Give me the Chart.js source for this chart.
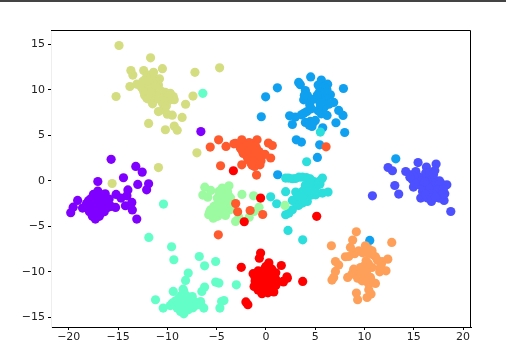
<!DOCTYPE html>
<html>
<head>
  <meta charset="UTF-8">
  <title>Scatter clusters</title>
  <script src="https://cdn.jsdelivr.net/npm/chart.js"></script>
  <style>
    html, body { margin: 0; padding: 0; background: #fff; overflow: hidden; }
    #bar { position: absolute; left: 0; top: 0; width: 506px; height: 1.5px; background: #444; }
    #wrap { width: 506px; height: 342px; }
  </style>
</head>
<body>
  <div id="wrap"><canvas id="grafico"></canvas></div>
  <div id="bar"></div>
  <script>
    const xTicks = [-20, -15, -10, -5, 0, 5, 10, 15, 20];
    const yTicks = [-15, -10, -5, 0, 5, 10, 15];

    const purple = [[-6.6,5.4],[-15.7,2.35],[-13.2,1.57],[-12.55,0.95],[-14.45,0.33],[-17.05,-0.08],[-13,-0.4],[-11.9,-0.33],[-12.1,-0.99],[-14,-1],[-15.2,-1.5],[-14.7,-1.9],[-14.1,-1.65],[-17.05,-1.13],[-16.3,-1.43],[-19.1,-2.16],[-18.6,-3],[-19.55,-2.9],[-19.8,-3.5],[-13.6,-2.38],[-14.25,-2.74],[-13.55,-3.2],[-13.1,-4.2],[-15.25,-2.93],[-17.3,-4.2],
      [-17.8,-2],[-17.3,-1.8],[-16.8,-1.9],[-16.3,-2.1],[-16,-2.5],[-16.2,-3],[-16.7,-3.5],[-17.2,-3.6],[-17.7,-3.3],[-18,-2.7],[-17.5,-2.5],[-17,-2.3],[-16.6,-2.8],[-17.2,-3],[-17.6,-3.9],[-16.9,-3.9],[-16.4,-3.4],[-18,-2.2],[-15.9,-2],[-15.7,-2.8],[-17.1,-2.8],[-16.5,-2.4],[-17.8,-3],[-18.3,-2.9],
      [-17.4,-2.1],[-16.9,-2.6],[-17.5,-2.9],[-17.4,-3.4],[-16.9,-3.2],[-16.3,-2.6],[-16.6,-2.1],[-17.1,-1.9],[-17.5,-1.5],[-16.8,-1.5],[-16.5,-1.6],[-16,-2.9],[-16.6,-3.2],[-18.2,-2.5],[-17.9,-3.4],[-17.1,-3.4]];
    const indigo = [[15.43,2],[16.28,1.5],[17.26,1.83],[17.13,1.13],[12.39,1.46],[12.83,1.1],[14.18,1.02],[14.69,0.66],[15.2,1.02],[13.07,-0.52],[13.47,-1.46],[10.8,-1.65],[18.75,-3.37],[15.7,-1.9],[16.79,-2.27],[18.07,-2.16],[14.96,-0.69],
      [15.7,0.3],[16.39,0.3],[16.2,0.85],[17.06,0.11],[17.74,-0.25],[18.35,-0.44],[15.53,-0.44],[16.21,-0.44],[17.06,-0.63],[17.74,-0.8],[15.88,-1.17],[16.55,-1.17],[17.23,-1.35],[18.14,-1.43],[16.39,-1.9],[17.56,-1.9],[15.37,-0.08],[14.86,0.11],
      [15.9,0],[16.5,-0.2],[16.9,0.3],[16,-0.8],[16.6,-0.8],[17.2,-0.2],[17.4,-1],[16.9,-1.4],[16.2,-1.5],[15.4,0.5],[15,0.5],[16.6,0.9],[17.6,0],[18,-0.9],[17.9,-1.5],[16.8,-1.9],[17.2,-1.8],[16.1,-0.1],[15.1,-0.2],[14.6,0.4],[17,0.7]];
    const azure = [[4.54,11.4],[3.32,10.8],[3.49,10.54],[5.62,11.05],[6.26,10.6],[7.86,10.13],[1.16,10.2],[-0.03,9.22],[-0.47,7.03],[2.4,7.13],[2.98,7],[2.68,6.18],[3.6,7.24],[4.16,7.6],[4.44,8.34],[4,9.91],[3.83,8.89],[4.33,9.08],[5.35,8.89],[5.52,10.17],[6.19,9.99],[5.69,9.44],[6.54,9.44],[5.86,8.89],[6.87,8.6],[5.52,8.09],[5.93,8.09],[5.62,7.35],[6.2,7.17],[7.38,7.72],[7.82,7.17],[7.1,6.37],[7.99,5.3],[5.76,5.82],[4,6.4],[4.5,6.51],[5.01,6.62],[4.67,5.96],[3.08,4.5],[3.6,4.25],[5.45,3.95],[5.22,2.56],[13.17,2.41],[10.53,-6.55],[1.19,0.66],
      [5.3,10.5],[5.9,10.3],[5.4,9.7],[6,9.7],[6.1,9],[5.2,9.4],[5.5,8.5],[6.4,8.4],[5.3,7.7],[4.2,9.4],[3.9,9.4],[4.7,8.9],[4.6,7.9],[3.85,7.4],[4.4,6.1],[4.8,6.4]];
    const cyan = [[5.52,5.35],[4.13,2.09],[0.48,-1.76],[1.09,-2.52],[2,-1.2],[2.24,-5.45],[3.73,-6.48],[2,-3.73],[2.34,-3.55],[2.68,-3.18],[2,0.3],[2.68,0.22],[3.35,0.4],[4.1,0.36],[4.87,-0.08],[5.73,0.3],[5.48,-0.36],[5.73,-1.35],[6.3,-1.24],[3.02,-1.24],[3.7,-1.17],[4.37,-0.99],[4.87,-0.8],[4.03,-1.9],[4.7,-1.54],[3.7,-2.45],[3.02,-2.38],[2.68,-2.16],[4.2,-2.27],[4.37,-0.63],[5.05,-1.54],
      [4,-0.5],[4.5,-0.3],[4.6,-1.2],[4.1,-1.2],[3.5,-1.6],[4.3,-1.7],[3.3,-1.7],[3.9,-2.1],[3.3,-2.7],[5.2,-0.5],[5,-1.1],[5.5,0],[2.3,0.3],[3,0.25],[3.7,0.4],[4.5,0.2]];
    const mint = [[-6.4,9.6],[-6.76,-8.31],[-9.34,-8.67],[-6.22,-9.33],[-5.1,-8.86],[-7.88,-10.13],[-8.15,-10.94],[-6.22,-11.67],[-6.5,-12.15],[-5.1,-11.12],[-4.77,-11.23],[-3,-11.42],[-11.2,-13.06],[-10.42,-13.97],[-9.4,-12.15],[-4.5,-13.25],[-4.26,-13.14],[-4.67,-13.97],[-6.63,-13.25],[-6.3,-13.97],[-6.9,-13.61],[-8.33,-14.6],[-9.5,-13.43],[-9,-13.97],[-8.83,-12.88],[-8.33,-12.15],[-7.47,-12.7],[-7.64,-13.61],[-8.33,-13.2],[-8.33,-13.9],[-8.66,-14.35],[-7.88,-14.16],[-8.8,-13.4],[-7.8,-13.2],[-9.7,-13.7],[-7.4,-13.95],[-11.88,-6.22],[-10.39,-2.56],[-9.57,-7.24],
      [-8.6,-12.6],[-8.1,-12.6],[-9,-13.2],[-8.6,-13.2],[-8,-13.6],[-8.6,-13.7],[-9.2,-13.7],[-8.1,-14],[-7.9,-12.9],[-7.2,-13.3],[-7.2,-13.7],[-8.7,-14],[-8.3,-14.3],[-9.2,-13.2],[-7.5,-13.1],[-8.4,-11.9],[-6.6,-13.6]];
    const green = [[-6.2,-0.7],[-5.6,-1.06],[-6.4,-1.57],[-5.9,-1.8],[-2.43,-1.5],[-1.25,-1.65],[1.93,-2.7],[-0.7,-2.9],[-1.2,-3.37],[-1.7,-4],[-3.08,-4.46],[-2.74,-4],[-3.75,-0.55],[-4.43,-0.8],[-4.77,-1.17],[-3.9,-1.17],[-4.26,-1.72],[-4.93,-1.9],[-3.58,-1.9],[-4.6,-2.45],[-3.9,-2.45],[-5.28,-2.82],[-3.4,-2.82],[-5.6,-3.18],[-4.77,-3.18],[-4.1,-3.37],[-5.8,-3.73],[-5.34,-4.1],[-4.77,-3.73],[-4.1,-3.8],[-5.1,-3.5],[-4.4,-2.1],
      [-4.3,-1.2],[-4.5,-1.5],[-4.1,-2],[-4.7,-2.1],[-4.3,-2.5],[-4.9,-2.5],[-5,-3],[-4.4,-3],[-3.9,-2.9],[-5.4,-3.3],[-5.3,-3.7],[-4.5,-3.5],[-3.7,-3.2],[-4.2,-3.6],[-4.9,-3.9],[-5.7,-3.4],[-3.8,-1.6],[-3.6,-2.4],[-4,-0.9]];
    const khaki = [[-11.7,13.5],[-10.5,12.3],[-13.7,12.1],[-13.5,11.6],[-12.4,12.1],[-7.2,11.9],[-4.7,12.4],[-13.8,10.35],[-15.2,9.25],[-13.1,10.6],[-14.9,14.85],
      [-12,11.6],[-11.6,11.5],[-11.2,11.2],[-10.8,11.2],[-10.9,10.5],[-12.5,10.9],[-12.2,10.5],[-11.8,10.9],[-11.4,10.6],[-11,10.1],[-12.6,10.2],[-12.1,9.9],[-11.6,10],[-11.2,9.6],[-10.8,9.5],[-12.3,9.4],[-12,9],[-11.6,9.3],[-11.3,8.9],[-10.7,9.9],
      [-9.7,9.6],[-10.2,9.7],[-9.3,8.9],[-9.7,8.9],[-10,8.7],[-9.4,9.25],[-12.1,9.1],[-11.5,8.45],[-10.5,8.55],[-10.4,7.8],[-10.9,7.6],[-10,7.3],[-9.5,7.2],[-7.4,9.3],[-8.15,8.4],[-8.5,6.95],[-11.9,6.3],[-10.2,5.6],[-9.3,6],[-9,5.55],[-7,3.07],[-15.6,-0.3],[-10.9,1.45],
      [-12.2,11.2],[-11.5,10.3],[-11.9,10.2],[-11,10.8],[-12.8,10.5],[-11.6,11],[-12.4,9.8],[-10.9,9],[-10.3,9.1],[-10.1,8.2],[-9.9,9.4],[-11.2,10.4],[-12,11],[-11.4,11.9],[-11.7,9.7]];
    const orange = [[9.17,-5.6],[8.8,-6.51],[6.64,-7.13],[12.76,-6.77],[8.57,-7.32],[8.9,-7.87],[10.09,-7.13],[9.41,-7.68],[10.76,-7.68],[10.43,-7.5],[8.4,-8.31],[8.06,-8.34],[11.11,-8.34],[12.36,-8.6],[11.78,-8.86],[10.16,-8.78],[7.05,-8.86],[7.38,-9.25],[7.05,-9.95],[11.61,-9.52],[12.18,-9.88],[11.54,-9.99],[8.9,-9.7],[9.58,-9.52],[10.76,-9.52],[10.26,-9.8],[8.73,-10.24],[9.41,-10.24],[9.92,-10.54],[10.6,-10.61],[8.29,-10.61],[6.87,-10.61],[6.7,-10.9],[11.11,-11.27],[10.43,-11.34],[10.43,-11.96],[10.66,-12.44],[10.26,-12.81],[9.18,-12.33],[9.3,-13.06],[9.75,-10.98],
      [9.2,-9.9],[9.7,-10],[10.2,-10.2],[9.3,-10.7],[10.1,-11],[10.7,-11],[9.9,-9.4],[10.4,-9.1],[9.8,-7.9],[10.3,-7.9],[11.7,-9.2],[9,-8],[10.8,-8.1],[11.3,-8.7]];
    const redOrange = [[-4.8,4.5],[-5.65,3.7],[-4.05,3.77],[-3.25,4.06],[-2.45,4.5],[-0.9,4.5],[0.25,4.14],[0.65,3.87],[0.48,2.5],[-2.45,1.75],[-4.6,1.65],[-0.6,1.75],[-1.15,1.57],[-0.95,0.63],
      [-2.2,4],[-1.7,4.2],[-1.2,4.1],[-1,3.7],[-1.6,3.7],[-2.1,3.5],[-2.6,3.6],[-0.7,3.2],[-1.2,3.2],[-1.8,3.1],[-2.3,3],[-0.4,2.8],[-0.9,2.6],[-1.4,2.7],[-1.9,2.6],[-1.6,2.2],[-1.1,2.1],[-1.4,1.7],[-0.1,2.9],[-3.1,4.1],[-0.5,2.2],
      [-3.07,-2.5],[-2.87,-3.4],[-1.6,-3.26],[-0.33,-3.7],[6.1,3.73],[-4.83,-5.93],
      [-1.7,3.4],[-1.3,3.5],[-1.5,3],[-1.1,2.8],[-1.6,2.5],[-1.3,2.3],[-2,3.8],[-1.4,3.9],[-0.9,3.4],[-2.4,3.3],[-1.9,2.9],[-0.8,2.9],[-1.8,2.3],[-1.5,1.9]];
    const red = [[-3.3,1.1],[-0.54,-1.9],[5.15,-3.9],[-2.2,-4.5],[-2.5,-9.5],[-0.54,-7.94],[-0.67,-8.5],[-2.03,-13.3],[-1.83,-13.6],[1.56,-9.3],[2.17,-10.7],[1.77,-11.1],[3.73,-11.05],[2.13,-10.54],[1.73,-11.05],
      [-1.3,-10.2],[-1.1,-11],[-1.2,-11.6],[-0.8,-12],[-0.4,-12.4],[0.2,-12.3],[0.8,-12.2],[1,-11.5],[1,-10.8],[1,-10.1],[0.6,-9.7],[0.3,-9],[-0.1,-9.6],[-0.5,-10],[-0.2,-10.7],[0.3,-10.5],[-0.7,-10.8],[-0.3,-11.4],[0.3,-11.5],[0.7,-11],[-0.9,-11.5],[0.5,-9.9],[0,-11],
      [-0.8,-10.3],[-0.3,-9.9],[0.1,-10],[0.6,-10.4],[0.5,-11.2],[0.1,-11.3],[-0.5,-11.2],[-0.9,-11.1],[-0.2,-12],[0.3,-11.9],[0.7,-11.7],[-0.6,-11.6],[0,-9.4],[-0.8,-9.9],[-1.1,-10.6],[-0.2,-10.2],[0.8,-10.5]];

    const clusters = [purple, indigo, azure, cyan, mint, green, khaki, orange, redOrange, red];
    const colors = ['#8000ff', '#4d50ff', '#10a0f0', '#2cdfdc', '#64ffc8', '#9cfba0', '#d4dd80', '#ffa05a', '#ff5a2e', '#ff0000'];

    // later clusters sit on top, lower order is drawn last
    const datasets = clusters.map((pts, i) => ({
      data: pts.map(p => ({ x: p[0], y: p[1] })),
      backgroundColor: colors[i],
      borderWidth: 0,
      pointRadius: 4.6,
      order: clusters.length - i
    }));

    const frame = {
      id: 'frame',
      afterDatasetsDraw(chart) {
        const a = chart.chartArea, c = chart.ctx;
        c.save();
        c.strokeStyle = '#000';
        c.lineWidth = 1;
        c.beginPath();
        c.moveTo(a.left, a.top + 0.5);
        c.lineTo(a.right - 0.5, a.top + 0.5);
        c.lineTo(a.right - 0.5, a.bottom);
        c.stroke();
        c.restore();
      }
    };

    const label = v => String(v).replace('-', '\u2212');

    new Chart(document.getElementById('grafico'), {
      type: 'scatter',
      data: { datasets },
      plugins: [frame],
      options: {
        responsive: true,
        maintainAspectRatio: false,
        animation: false,
        layout: { padding: { top: 30, right: 35, left: 0, bottom: 0 } },
        plugins: { legend: { display: false }, tooltip: { enabled: false } },
        scales: {
          x: {
            min: -21.8, max: 20.8,
            afterBuildTicks: s => { s.ticks = xTicks.map(v => ({ value: v })); },
            afterFit: s => { s.height = 15; },
            grid: { drawOnChartArea: false, tickLength: 3, color: '#000' },
            border: { color: '#000' },
            ticks: { callback: label, color: '#222', padding: 1, maxRotation: 0, autoSkip: false, font: { family: 'DejaVu Sans', size: 11 } }
          },
          y: {
            min: -16.05, max: 16.55,
            afterBuildTicks: s => { s.ticks = yTicks.map(v => ({ value: v })); },
            afterFit: s => { s.width = 51; },
            grid: { drawOnChartArea: false, tickLength: 3, color: '#000' },
            border: { color: '#eee' },
            ticks: { callback: label, color: '#222', padding: 3, autoSkip: false, font: { family: 'DejaVu Sans', size: 11 } }
          }
        }
      }
    });
  </script>
</body>
</html>
